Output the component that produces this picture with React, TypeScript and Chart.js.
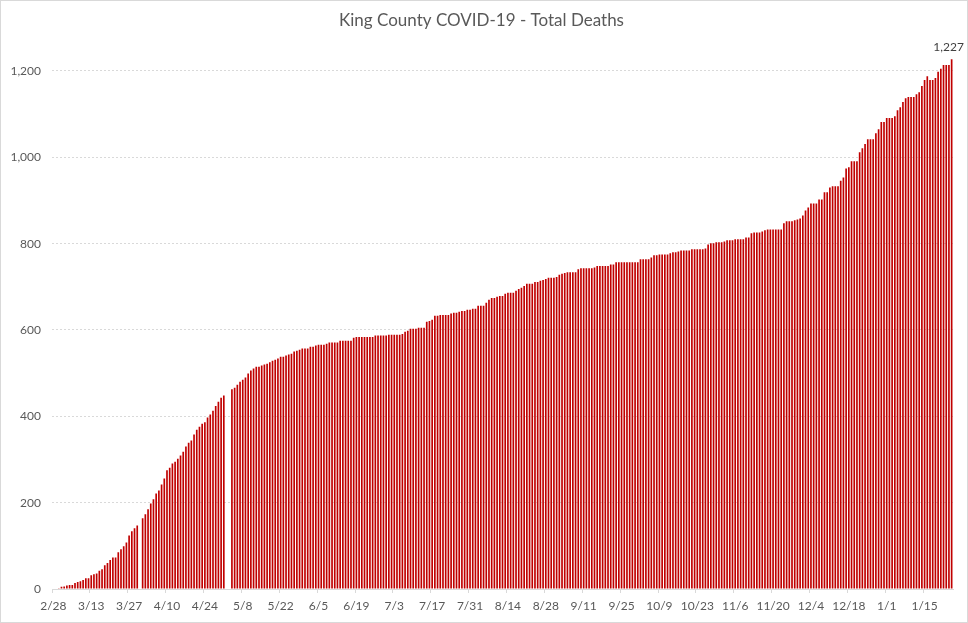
import React, { useEffect, useRef } from 'react';
import { Chart, registerables } from 'chart.js';

Chart.register(...registerables);

// Cumulative deaths per day, 2/28/2020 .. 1/25/2021 (null = no report)
const feb2020 = [null, 1];
const mar2020 = [2, 5, 6, 8, 9, 9, 14, 16, 18, 21, 25, 25, 32, 34, 36, 42, 46, 55, 60, 67, 73, 73, 85, 92, 99, 108, 124, 134, 141, 147, null];
const apr2020 = [164, 173, 185, 198, 208, 221, 228, 242, 256, 275, 281, 291, 295, 302, 309, 318, 330, 339, 344, 358, 369, 376, 383, 386, 397, 404, 413, 424, 434, 443];
const may2020 = [448, null, null, 463, 466, 473, 480, 485, 490, 499, 506, 511, 515, 515, 518, 520, 522, 525, 529, 531, 534, 538, 538, 541, 543, 545, 550, 552, 554, 557, 557];
const jun2020 = [557, 561, 561, 564, 566, 566, 566, 568, 571, 571, 571, 571, 575, 575, 575, 575, 575, 582, 584, 584, 584, 584, 584, 584, 584, 587, 587, 587, 587, 587];
const jul2020 = [589, 589, 589, 589, 589, 591, 596, 598, 603, 603, 603, 605, 605, 605, 619, 621, 624, 633, 633, 635, 635, 635, 635, 638, 640, 640, 642, 644, 644, 647, 647];
const aug2020 = [649, 649, 656, 656, 656, 663, 670, 674, 674, 677, 679, 679, 684, 686, 686, 686, 691, 695, 698, 702, 707, 707, 707, 711, 711, 714, 716, 718, 721, 721, 721];
const sep2020 = [723, 728, 730, 732, 734, 734, 734, 734, 741, 743, 743, 743, 743, 743, 745, 748, 748, 748, 748, 748, 752, 752, 757, 757, 757, 757, 757, 757, 757, 757];
const oct2020 = [757, 764, 764, 764, 764, 768, 773, 773, 775, 775, 775, 775, 778, 780, 780, 782, 784, 784, 784, 784, 787, 787, 787, 787, 787, 789, 798, 801, 801, 803, 803];
const nov2020 = [803, 805, 808, 808, 808, 810, 810, 810, 810, 814, 814, 824, 826, 826, 826, 828, 831, 833, 833, 833, 833, 833, 833, 847, 852, 852, 852, 854, 856, 858];
const dec2020 = [865, 877, 884, 893, 893, 893, 902, 902, 919, 919, 930, 933, 933, 933, 946, 953, 974, 977, 991, 991, 991, 1012, 1021, 1031, 1042, 1042, 1042, 1056, 1065, 1082, 1082];
const jan2021 = [1091, 1091, 1091, 1095, 1109, 1116, 1128, 1137, 1140, 1140, 1140, 1146, 1151, 1165, 1179, 1188, 1179, 1179, 1184, 1198, 1205, 1214, 1214, 1214, 1227];

const totalDeaths: (number | null)[] = [
  ...feb2020, ...mar2020, ...apr2020, ...may2020, ...jun2020, ...jul2020,
  ...aug2020, ...sep2020, ...oct2020, ...nov2020, ...dec2020, ...jan2021,
];

const tickLabels = ['2/28', '3/13', '3/27', '4/10', '4/24', '5/8', '5/22', '6/5', '6/19', '7/3', '7/17', '7/31', '8/14', '8/28', '9/11', '9/25', '10/9', '10/23', '11/6', '11/20', '12/4', '12/18', '1/1', '1/15'];
const LABEL_EVERY = 14;

const START = Date.UTC(2020, 1, 28);
const categories: string[] = totalDeaths.map((_, i) => {
  const d = new Date(START + i * 86400000);
  return `${d.getUTCMonth() + 1}/${d.getUTCDate()}`;
});

const TITLE = 'King County COVID-19 - Total Deaths';
const FONT = 'Lato, "Open Sans", sans-serif';

const bgBorderPlugin = {
  id: 'bgBorder',
  beforeDraw(chart: any) {
    const { ctx, width, height } = chart;
    ctx.save();
    ctx.fillStyle = '#ffffff';
    ctx.fillRect(0, 0, width, height);
    ctx.strokeStyle = '#d9d9d9';
    ctx.lineWidth = 1;
    ctx.strokeRect(0.5, 0.5, width - 1, height - 1);
    ctx.restore();
  },
};

const lastLabelPlugin = {
  id: 'lastLabel',
  afterDatasetsDraw(chart: any) {
    const meta = chart.getDatasetMeta(0);
    const data = chart.data.datasets[0].data;
    let idx = data.length - 1;
    while (idx >= 0 && data[idx] == null) idx--;
    if (idx < 0) return;
    const bar = meta.data[idx];
    const { ctx } = chart;
    ctx.save();
    ctx.font = `12px ${FONT}`;
    ctx.fillStyle = '#404040';
    ctx.textAlign = 'center';
    ctx.textBaseline = 'bottom';
    ctx.fillText(Number(data[idx]).toLocaleString('en-US'), bar.x - 3, bar.y - 6);
    ctx.restore();
  },
};

export default function App() {
  const canvasRef = useRef<HTMLCanvasElement | null>(null);

  useEffect(() => {
    document.body.style.margin = '0';
    const canvas = canvasRef.current;
    if (!canvas) return;
    const chart = new Chart(canvas, {
      type: 'bar',
      data: {
        labels: categories,
        datasets: [
          {
            label: 'Total Deaths',
            data: totalDeaths,
            backgroundColor: '#c00000',
            borderWidth: 0,
            barPercentage: 0.62,
            categoryPercentage: 1,
          },
        ],
      },
      options: {
        responsive: false,
        animation: false,
        layout: { padding: { top: 0, left: 10, right: 15, bottom: 0 } },
        plugins: {
          legend: { display: false },
          tooltip: { enabled: false },
          title: {
            display: true,
            text: TITLE,
            color: '#595959',
            font: { family: FONT, size: 17, weight: 'normal' },
            padding: { top: 10, bottom: 19 },
          },
        },
        scales: {
          x: {
            type: 'category',
            offset: true,
            grid: {
              offset: true,
              drawOnChartArea: false,
              drawTicks: true,
              tickLength: 4,
              color: (ctx: any) => (ctx.index !== undefined && ctx.index % LABEL_EVERY === 0 ? '#d9d9d9' : 'rgba(0,0,0,0)'),
            },
            border: { display: true, color: '#d9d9d9' },
            ticks: {
              autoSkip: false,
              maxRotation: 0,
              minRotation: 0,
              padding: 6,
              color: '#595959',
              font: { family: FONT, size: 12 },
              callback: (_v: any, i: number) => (i % LABEL_EVERY === 0 ? tickLabels[i / LABEL_EVERY] ?? '' : ''),
            },
            afterFit: (scale: any) => {
              scale.height = 34;
            },
          },
          y: {
            min: 0,
            max: 1250,
            grid: { color: '#d9d9d9', drawTicks: false },
            border: { display: false, dash: [2, 2] },
            ticks: {
              stepSize: 200,
              includeBounds: false,
              padding: 11,
              color: '#595959',
              font: { family: FONT, size: 12 },
              callback: (v: any) => Number(v).toLocaleString('en-US'),
            },
            afterFit: (scale: any) => {
              scale.width = 42;
            },
          },
        },
      },
      plugins: [bgBorderPlugin, lastLabelPlugin],
    } as any);
    return () => chart.destroy();
  }, []);

  return (
    <div style={{ width: 968, height: 623 }}>
      <canvas ref={canvasRef} width={968} height={623} style={{ display: 'block' }} />
    </div>
  );
}
